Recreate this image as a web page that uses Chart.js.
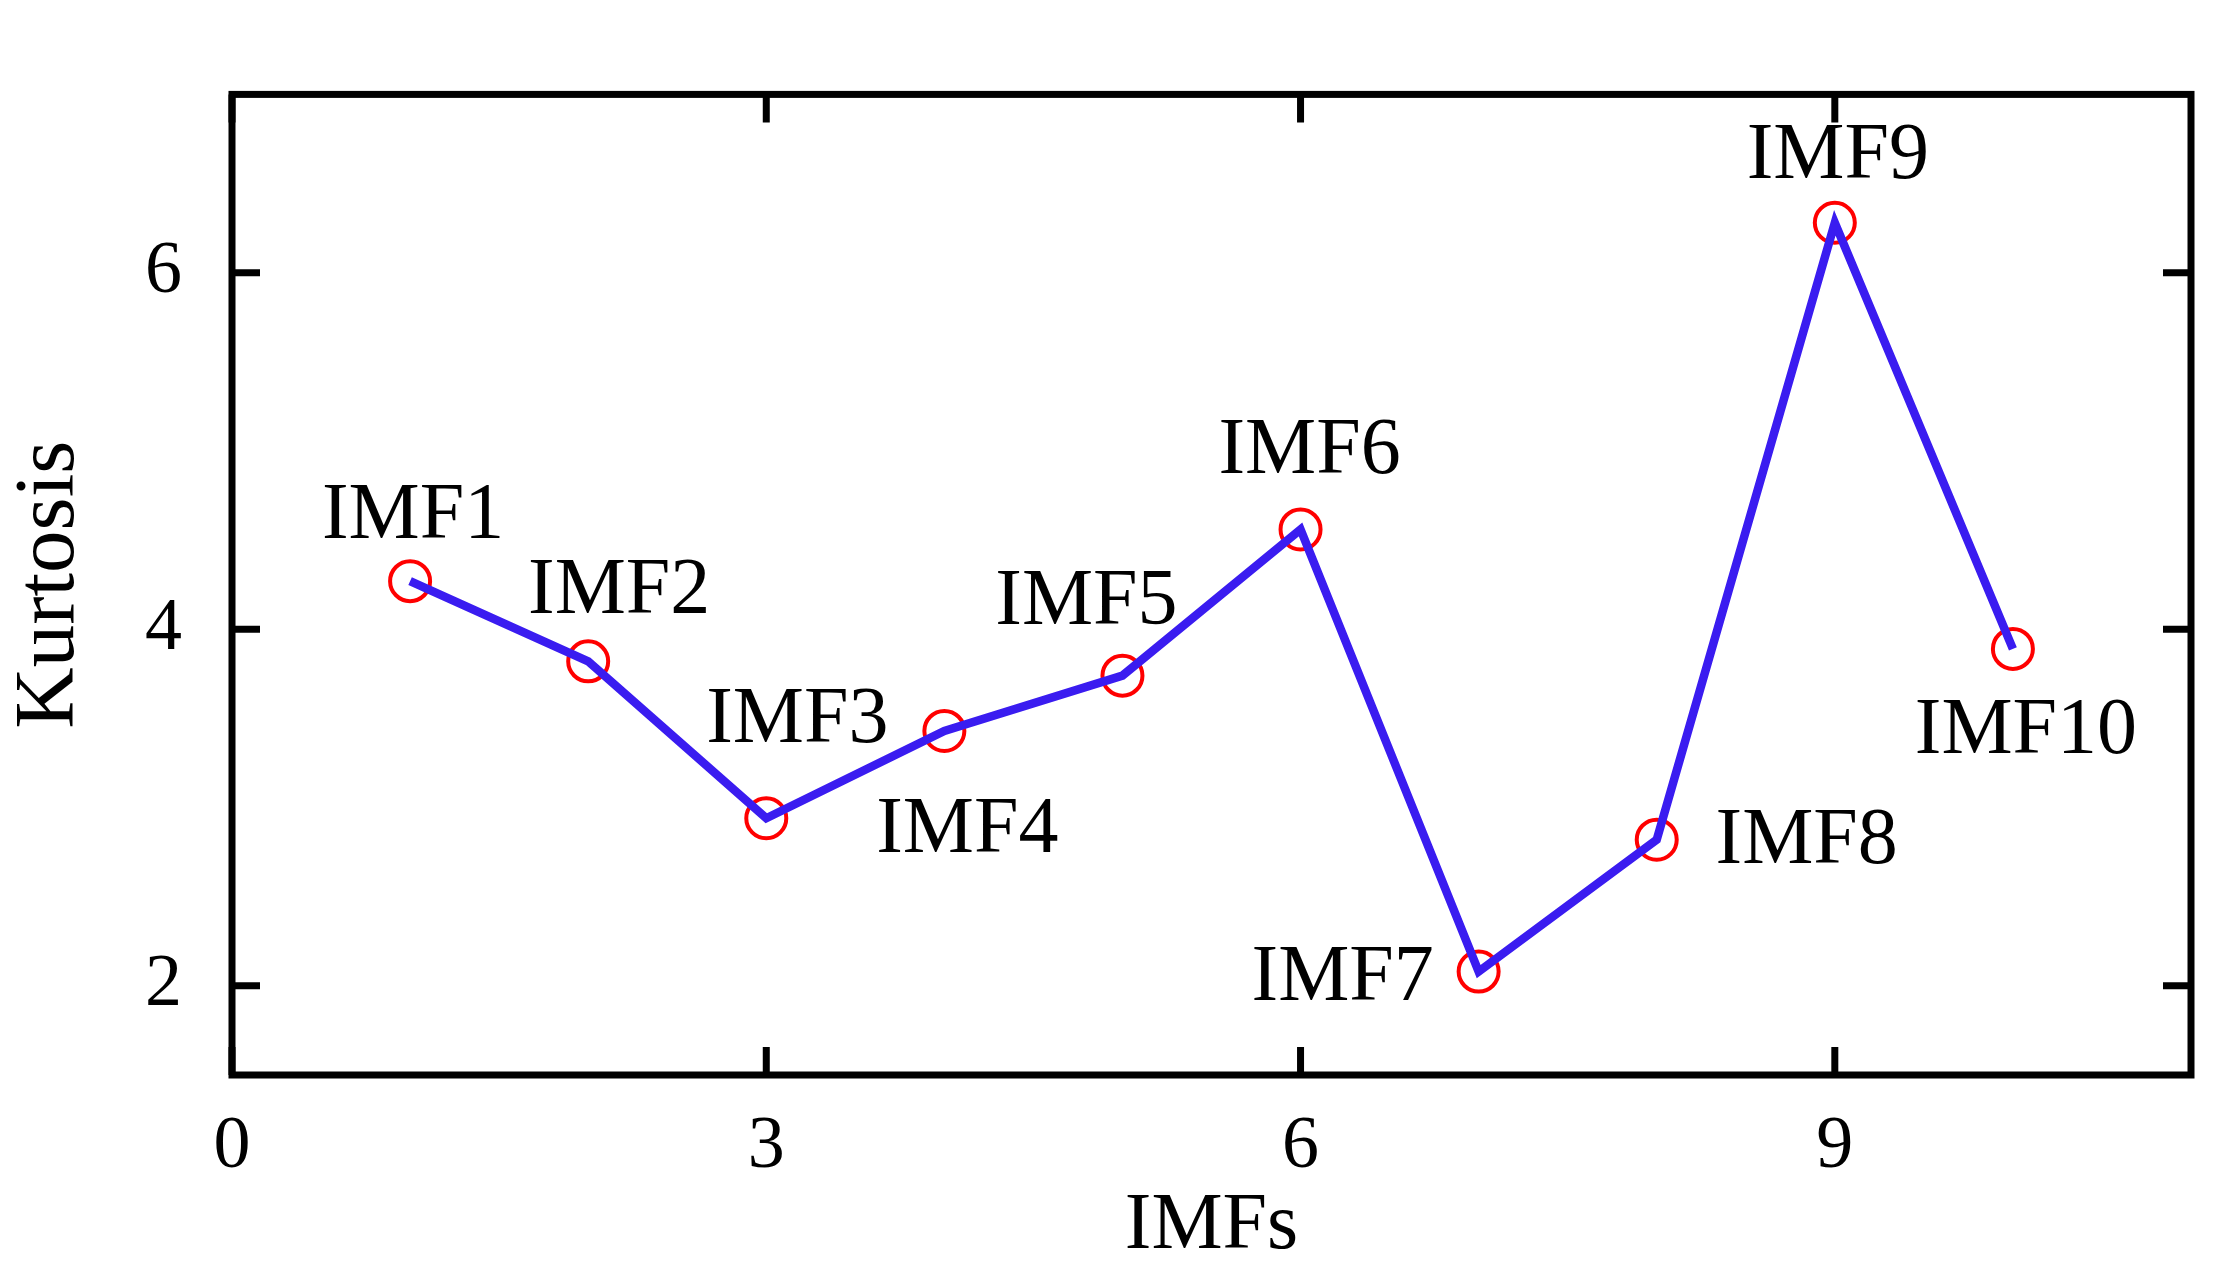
<!DOCTYPE html>
<html><head><meta charset="utf-8">
<script src="https://cdn.jsdelivr.net/npm/chart.js@4"></script>
<style>html,body{margin:0;padding:0;background:#fff}#w{width:2235px;height:1275px}</style>
</head><body><div id="w"><canvas id="c"></canvas></div>
<script>
const imfIndex = [1,2,3,4,5,6,7,8,9,10];
const kurtosis = [4.27,3.82,2.94,3.43,3.74,4.56,2.08,2.82,6.28,3.89];
const pointLabels = ['IMF1','IMF2','IMF3','IMF4','IMF5','IMF6','IMF7','IMF8','IMF9','IMF10'];
const xTicks = [0,3,6,9];
const yTicks = [2,4,6];
const labelOffsets = [[3,-64],[31,-69],[31,-97],[23,100],[-36,-73],[9,-77],[-136,7],[150,2],[3,-66],[13,83]];
const FONT = '"Liberation Serif", "DejaVu Serif", serif';
const data = imfIndex.map((x,i)=>({x, y:kurtosis[i]}));

const framePlugin = {
  id:'frame',
  afterDraw(chart){
    const {ctx, chartArea:a, scales:{x,y}} = chart;
    ctx.save();
    ctx.strokeStyle='#000'; ctx.lineWidth=7;
    ctx.strokeRect(a.left,a.top,a.right-a.left,a.bottom-a.top);
    const L=28;
    ctx.beginPath();
    xTicks.forEach(v=>{const p=x.getPixelForValue(v);
      ctx.moveTo(p,a.bottom);ctx.lineTo(p,a.bottom-L);
      ctx.moveTo(p,a.top);ctx.lineTo(p,a.top+L);});
    yTicks.forEach(v=>{const p=y.getPixelForValue(v);
      ctx.moveTo(a.left,p);ctx.lineTo(a.left+L,p);
      ctx.moveTo(a.right,p);ctx.lineTo(a.right-L,p);});
    ctx.stroke();
    ctx.fillStyle='#000'; ctx.font='80px '+FONT;
    ctx.textAlign='center'; ctx.textBaseline='middle';
    data.forEach((d,i)=>{
      const px=x.getPixelForValue(d.x), py=y.getPixelForValue(d.y);
      ctx.fillText(pointLabels[i], px+labelOffsets[i][0], py+labelOffsets[i][1]);
    });
    ctx.restore();
  }
};

new Chart(document.getElementById('c'),{
  type:'scatter',
  data:{datasets:[
    {data, showLine:true, borderColor:'#3a1cf0', borderWidth:8.5, pointRadius:0, order:1},
    {data, showLine:false, pointRadius:20, pointBorderColor:'#ff0000', pointBackgroundColor:'rgba(0,0,0,0)', pointBorderWidth:4, order:2}
  ]},
  options:{
    responsive:true, maintainAspectRatio:false, animation:false,
    layout:{padding:{top:5,right:44,left:0,bottom:0}},
    plugins:{legend:{display:false},tooltip:{enabled:false}},
    scales:{
      x:{type:'linear',min:0,max:11,
        afterBuildTicks:s=>{s.ticks=xTicks.map(v=>({value:v}));},
        afterFit:s=>{s.height=200;},
        grid:{display:false,drawTicks:false},border:{display:false},
        ticks:{color:'#000',font:{family:FONT,size:74},padding:28,maxRotation:0},
        title:{display:true,text:'IMFs',color:'#000',font:{family:FONT,size:80},padding:{top:0,bottom:0}}},
      y:{type:'linear',min:1.5,max:7,
        afterBuildTicks:s=>{s.ticks=yTicks.map(v=>({value:v}));},
        afterFit:s=>{s.width=232;},
        grid:{display:false,drawTicks:false},border:{display:false},
        ticks:{color:'#000',font:{family:FONT,size:74},padding:50},
        title:{display:true,text:'Kurtosis',color:'#000',font:{family:FONT,size:85},padding:{top:0,bottom:15}}}
    }
  },
  plugins:[framePlugin]
});
</script></body></html>
